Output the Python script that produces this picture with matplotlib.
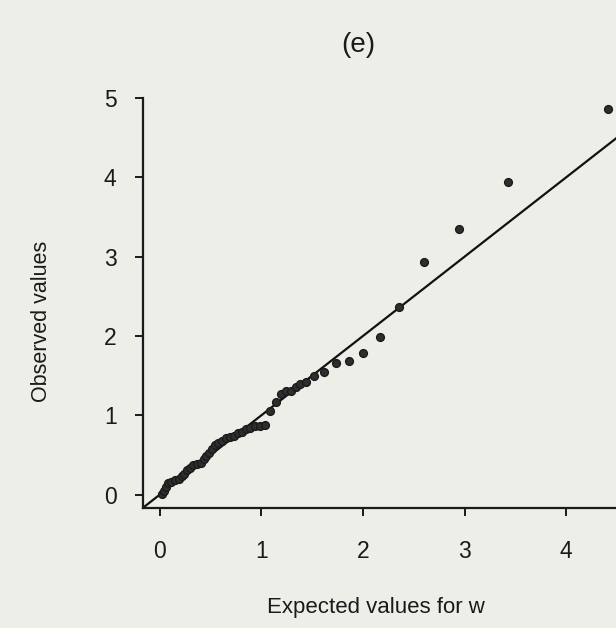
import matplotlib
matplotlib.use("Agg")
import matplotlib.pyplot as plt
import numpy as np

plt.rcParams['font.family'] = ['Liberation Sans', 'DejaVu Sans']

# expected vs observed quantiles for w
expected = [0.02, 0.04, 0.06, 0.08, 0.11, 0.15, 0.19, 0.22, 0.24, 0.27,
            0.30, 0.33, 0.37, 0.40, 0.43, 0.45, 0.48, 0.51, 0.54, 0.57,
            0.61, 0.65, 0.69, 0.73, 0.77, 0.81, 0.85, 0.89, 0.94, 0.99,
            1.03, 1.08, 1.14, 1.19, 1.24, 1.29, 1.34, 1.38, 1.44, 1.52,
            1.62, 1.73, 1.86, 2.00, 2.17, 2.35, 2.60, 2.94, 3.43, 4.41]
observed = [0.01, 0.05, 0.10, 0.14, 0.16, 0.18, 0.20, 0.23, 0.26, 0.31,
            0.34, 0.37, 0.38, 0.40, 0.45, 0.49, 0.53, 0.57, 0.62, 0.65,
            0.68, 0.71, 0.73, 0.74, 0.78, 0.79, 0.83, 0.84, 0.87, 0.87,
            0.88, 1.05, 1.17, 1.27, 1.30, 1.31, 1.36, 1.40, 1.42, 1.49,
            1.54, 1.66, 1.69, 1.79, 1.99, 2.37, 2.93, 3.35, 3.94, 4.86]
x_ticks = [0, 1, 2, 3, 4]
y_ticks = [0, 1, 2, 3, 4, 5]

bg = '#eeeee8'
ink = '#1a1a1a'
fig = plt.figure(figsize=(6.16, 6.28), dpi=100, facecolor=bg)
ax = fig.add_axes([0.232, 0.191, 0.768, 0.653])
ax.set_facecolor(bg)

xlim = (-0.167, 4.49)
ylim = (-0.17, 5.0)

# reference line y = x
ax.plot([-0.17, 5.0], [-0.17, 5.0], color='#111111', lw=1.6, zorder=2)
ax.plot(expected, observed, 'o', color='#2e2e2e', markersize=5.6,
        markeredgecolor=ink, zorder=3)

ax.set_xlim(xlim)
ax.set_ylim(ylim)
ax.set_xticks(x_ticks)
ax.set_yticks(y_ticks)

for s in ['top', 'right']:
    ax.spines[s].set_visible(False)
for s in ['left', 'bottom']:
    ax.spines[s].set_linewidth(1.6)
    ax.spines[s].set_color(ink)

ax.tick_params(axis='both', direction='out', length=6, width=1.4,
               color=ink, labelsize=16.5, labelcolor=ink)
ax.tick_params(axis='y', pad=13)
ax.tick_params(axis='x', pad=17)

ax.set_xlabel('Expected values for w', fontsize=16, color=ink)
ax.xaxis.set_label_coords(0.493, -0.217)
ax.set_ylabel('Observed values', fontsize=15.5, color=ink)
ax.yaxis.set_label_coords(-0.193, 0.455)
fig.text(0.581, 0.928, '(e)', fontsize=20, color=ink, ha='center', va='center')

plt.savefig('out.png', dpi=100, facecolor=bg)
